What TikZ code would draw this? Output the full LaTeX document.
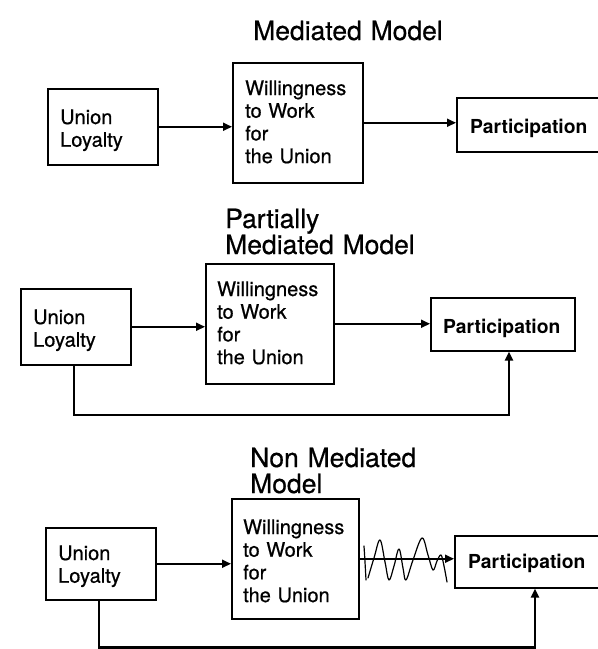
\documentclass[tikz,border=0pt]{standalone}
\usepackage{fontspec}
\setmainfont{TeX Gyre Heros}
\newfontfamily\medheros{TeX Gyre Heros}[FakeBold=0.6]
\usetikzlibrary{arrows.meta}
\begin{document}
\begin{tikzpicture}[x=1pt,y=-1pt,
  box/.style={draw, line width=1.5pt, inner sep=0pt, anchor=north west},
  txt/.style={anchor=base west, inner sep=0pt, align=left, text width=150pt,
              font=\medheros\fontsize{20}{22.7}\selectfont},
  ptxt/.style={anchor=base west, inner sep=0pt, font=\fontsize{19.3}{22}\selectfont\bfseries},
  ttl/.style={anchor=base west, inner sep=0pt, align=left, text width=250pt,
              font=\medheros\fontsize{26.5}{26}\selectfont},
  arr/.style={line width=2pt, -{Triangle[length=9pt,width=8pt]}},
  fb/.style={line width=2.4pt, -{Triangle[length=9pt,width=8pt]}},
  wig/.style={line width=1.2pt, line cap=round, line join=round}]
\clip (0,0) rectangle (598,649);
\fill[white] (0,0) rectangle (598,649);

% ---------- Mediated Model ----------
\node[ttl] (t1) at (253,40) {Mediated Model};
\node[box, minimum width=110pt, minimum height=76pt] (ul1) at (47,88) {};
\node[box, minimum width=130pt, minimum height=120pt] (w1) at (232,62) {};
\node[box, minimum width=146pt, minimum height=54pt] (p1) at (456,97) {};
\node[txt] (ul1t) at (60,124) {Union\\Loyalty};
\node[txt] (w1t) at (245,95) {Willingness\\to Work\\for\\the Union};
\node[ptxt] (p1t) at (470,133) {Participation};
\draw[arr] (ul1.east) -- (ul1.east -| w1.west);
\draw[arr] (w1.east) -- (w1.east -| p1.west);

% ---------- Partially Mediated Model ----------
\node[ttl] (t2) at (225,228) {Partially\\Mediated Model};
\node[box, minimum width=110pt, minimum height=76pt] (ul2) at (20,288) {};
\node[box, minimum width=128pt, minimum height=120pt] (w2) at (205,263) {};
\node[box, minimum width=144pt, minimum height=53pt] (p2) at (430,297) {};
\node[txt] (ul2t) at (33,324) {Union\\Loyalty};
\node[txt] (w2t) at (217,296) {Willingness\\to Work\\for\\the Union};
\node[ptxt] (p2t) at (443,333) {Participation};
\draw[arr] (ul2.east) -- (ul2.east -| w2.west);
\draw[arr] (w2.east) -- (w2.east -| p2.west);
\coordinate (c2a) at (74,415);
\coordinate (c2b) at (509,415);
\draw[fb] (ul2.south -| c2a) -- (c2a) -- (c2b) -- (c2b |- p2.south);

% ---------- Non Mediated Model ----------
\node[ttl] (t3) at (250,467) {Non Mediated\\Model};
\node[box, minimum width=110pt, minimum height=72pt] (ul3) at (45,527) {};
\node[box, minimum width=127pt, minimum height=120pt] (w3) at (231,498) {};
\node[box, minimum width=148pt, minimum height=52pt] (p3) at (454,535) {};
\node[txt] (ul3t) at (58,560) {Union\\Loyalty};
\node[txt] (w3t) at (243,534) {Willingness\\to Work\\for\\the Union};
\node[ptxt] (p3t) at (468,568) {Participation};
\draw[arr] (ul3.east) -- (ul3.east -| w3.west);
\draw[arr] (w3.east) -- (w3.east -| p3.west);
\coordinate (c3a) at (99,647.5);
\coordinate (c3b) at (535,647.5);
\draw[fb] (ul3.south -| c3a) -- (c3a) -- (c3b) -- (c3b |- p3.south);
% wiggle over the arrow
\draw[wig] plot[smooth, tension=0.6] coordinates {(364,546) (365,562) (366,580)};
\draw[wig] plot[smooth, tension=0.6] coordinates {(368,578) (374,558) (380,540) (385,562) (389,580) (394,566) (399,549) (403,568) (406,580) (413,560) (422,538) (428,555) (433,570) (437,561) (441,555) (444,566) (447,582)};
\end{tikzpicture}
\end{document}
